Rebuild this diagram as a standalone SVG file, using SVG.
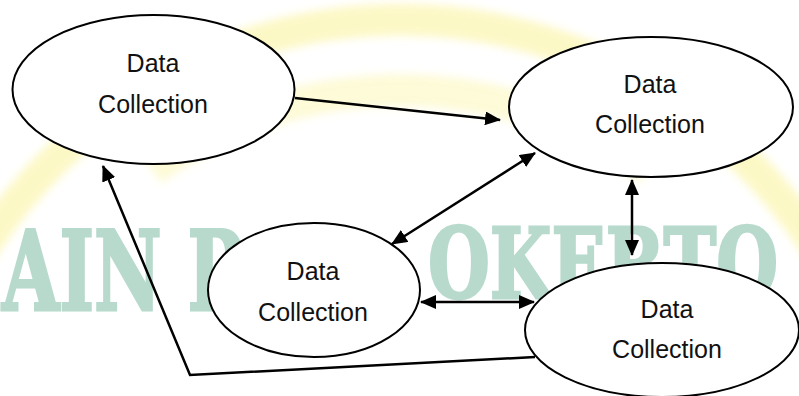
<svg xmlns="http://www.w3.org/2000/svg" width="799" height="396" viewBox="0 0 799 396">
  <defs>
    <marker id="ah" viewBox="0 0 16 14" refX="15" refY="7" markerWidth="16" markerHeight="14" markerUnits="userSpaceOnUse" orient="auto-start-reverse">
      <path d="M0,0 L16,7 L0,14 z" fill="#000"/>
    </marker>
    <filter id="soft" x="-10%" y="-10%" width="120%" height="120%">
      <feGaussianBlur stdDeviation="4"/>
    </filter>
    <style>
      .node ellipse { fill: #fff; stroke: #000; stroke-width: 2; }
      .node text { font-family: "Liberation Sans", Arial, sans-serif; font-size: 25px; fill: #111; text-anchor: middle; }
      .conn { fill: none; stroke: #000; stroke-width: 2.5; }
      .band { fill: none; stroke: #fcf6b4; stroke-width: 32; }
      .wm { font-family: "DejaVu Serif", "Liberation Serif", serif; font-weight: bold; fill: #b8dacd; stroke: #b8dacd; stroke-width: 2; }
    </style>
  </defs>
  <rect width="799" height="396" fill="#fff"/>
  <g id="watermark">
    <g filter="url(#soft)" opacity="0.75">
      <path class="band" d="M -41 290 A 495 495 0 0 1 841 290"/>
      <path class="band" d="M 152 170 A 425 425 0 0 1 648 170" opacity="0.7"/>
    </g>
    <text class="wm" font-size="74" transform="translate(2,310) scale(1,1.48)">AIN P</text>
    <text class="wm" font-size="71" transform="translate(428,298) scale(1,1.38)">OKERTO</text>
  </g>
  <g id="connectors">
    <line class="conn" x1="295" y1="98" x2="500" y2="120" marker-end="url(#ah)"/>
    <line class="conn" x1="535" y1="153" x2="392" y2="244" marker-start="url(#ah)" marker-end="url(#ah)"/>
    <line class="conn" x1="632" y1="180" x2="632" y2="255" marker-start="url(#ah)" marker-end="url(#ah)"/>
    <line class="conn" x1="421" y1="302" x2="534" y2="302" marker-start="url(#ah)" marker-end="url(#ah)"/>
    <polyline class="conn" points="535,357 190,375 103,166" marker-end="url(#ah)"/>
  </g>
  <g id="node1" class="node">
    <ellipse cx="153.5" cy="89.5" rx="141" ry="74.5"/>
    <text x="153" y="72">Data</text>
    <text x="153" y="113">Collection</text>
  </g>
  <g id="node2" class="node">
    <ellipse cx="651" cy="107" rx="142" ry="70"/>
    <text x="650" y="93">Data</text>
    <text x="650" y="133">Collection</text>
  </g>
  <g id="node3" class="node">
    <ellipse cx="314" cy="290" rx="106" ry="67"/>
    <text x="313" y="280">Data</text>
    <text x="313" y="321">Collection</text>
  </g>
  <g id="node4" class="node">
    <ellipse cx="662" cy="330" rx="137" ry="67"/>
    <text x="667" y="318">Data</text>
    <text x="667" y="358">Collection</text>
  </g>
</svg>
